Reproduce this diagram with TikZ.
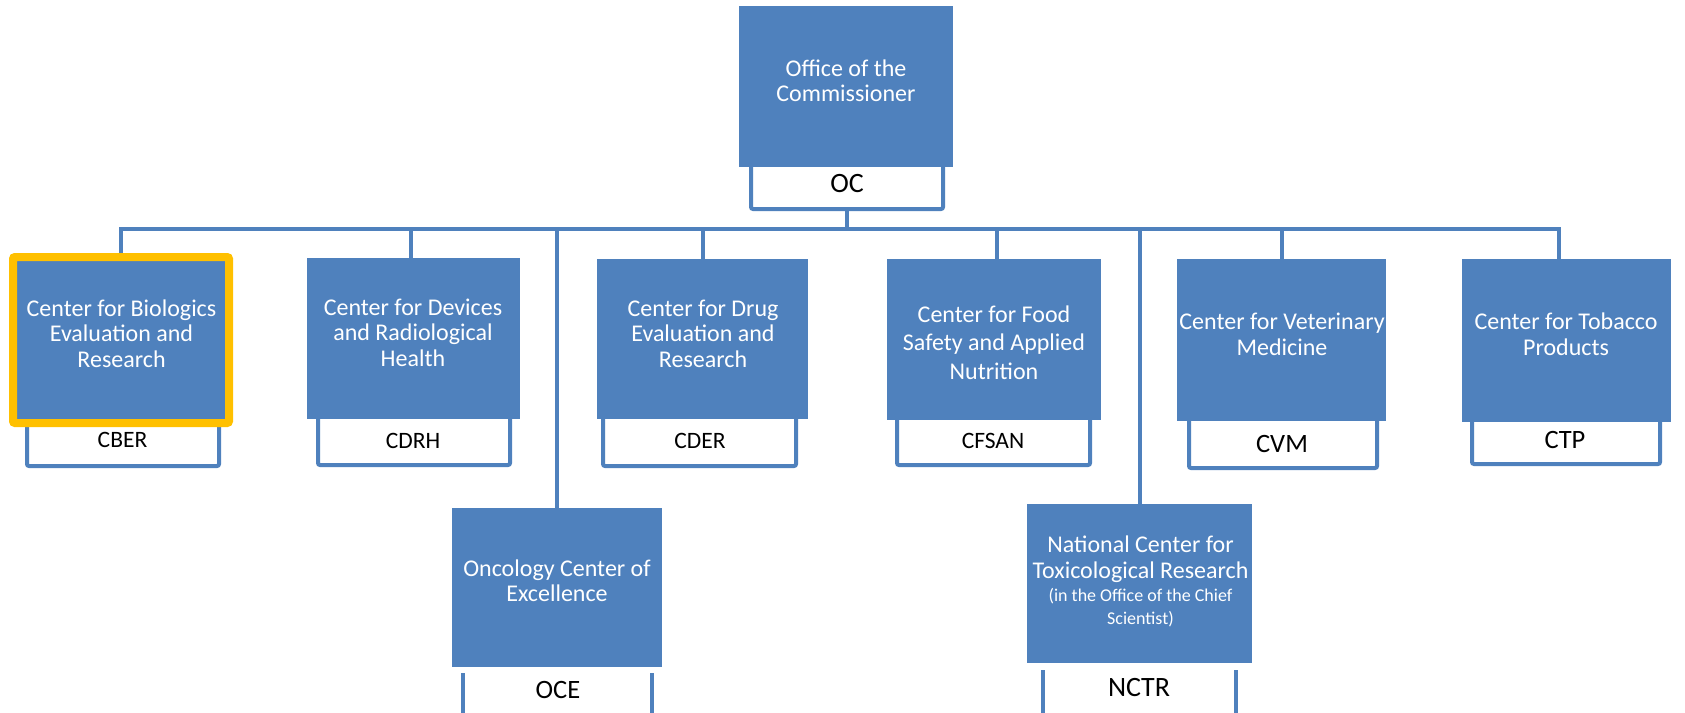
\documentclass[tikz,border=0pt]{standalone}
\usepackage{fontspec}
\setmainfont{Carlito}
\definecolor{fdablue}{HTML}{4F81BD}
\definecolor{fdagold}{HTML}{FFC000}
\begin{document}
\begin{tikzpicture}[x=1pt,y=-1pt,
  unit/.style={fill=fdablue, draw=none, inner sep=0pt, outer sep=0pt},
  abbr/.style={fill=white, draw=fdablue, line width=4pt, rounded corners=2pt, inner sep=0pt},
  abbrfill/.style={fill=white, draw=none, inner sep=0pt, outer sep=0pt},
  conn/.style={draw=fdablue, line width=4pt},
  lbl/.style={text=white, align=center, inner sep=0pt, font=\fontsize{24}{25.5}\selectfont},
  ab/.style={text=black, inner sep=0pt, font=\fontsize{#1}{#1}\selectfont},
]
\useasboundingbox (0,0) rectangle (1685,712);
\clip (0,0) rectangle (1685,712);

% abbreviation boxes (drawn first, partly hidden by the unit boxes)
\node[abbr, minimum width=192, minimum height=57] (ocab) at (847,180.5) {};
\node[abbr, minimum width=192, minimum height=56] (cberab) at (123,438) {};
\node[abbr, minimum width=192, minimum height=60] (cdrhab) at (414,435) {};
\node[abbr, minimum width=193, minimum height=61] (cderab) at (699.5,435.5) {};
\node[abbr, minimum width=193, minimum height=60] (cfsanab) at (993.5,435) {};
\node[abbr, minimum width=188, minimum height=63] (cvmab) at (1283,436.5) {};
\node[abbr, minimum width=188, minimum height=59] (ctpab) at (1566,434.5) {};
\node[abbrfill, minimum width=189, minimum height=60] (oceab) at (557.5,703) {};
\draw[conn] (oceab.north west) -- (oceab.south west) -- (oceab.south east) -- (oceab.north east);
\node[abbrfill, minimum width=193, minimum height=60] (nctrab) at (1139.5,700) {};
\draw[conn] (nctrab.north west) -- (nctrab.south west) -- (nctrab.south east) -- (nctrab.north east);

% unit boxes
\node[unit, minimum width=214, minimum height=161] (oc) at (846,86.5) {};
\node[unit, draw=fdagold, line width=8pt, outer sep=4pt, rounded corners=2pt, minimum width=216, minimum height=166] (cber) at (121,340) {};
\node[unit, minimum width=213, minimum height=161] (cdrh) at (413.5,338.5) {};
\node[unit, minimum width=211, minimum height=160] (cder) at (702.5,339) {};
\node[unit, minimum width=214, minimum height=161] (cfsan) at (994,339.5) {};
\node[unit, minimum width=209, minimum height=162] (cvm) at (1281.5,340) {};
\node[unit, minimum width=209, minimum height=163] (ctp) at (1566.5,340.5) {};
\node[unit, minimum width=210, minimum height=159] (oce) at (557,587.5) {};
\node[unit, minimum width=225, minimum height=159] (nctr) at (1139.5,583.5) {};

% connectors
\coordinate (busy) at (0,229);
\draw[conn] (ocab.south) -- (ocab.south |- busy);
\draw[conn] (cber.north) -- (cber.north |- busy) -- ([xshift=-7.5pt]ctp.north |- busy) -- ([xshift=-7.5pt]ctp.north);
\draw[conn] ([xshift=-2.5pt]cdrh.north) -- ([xshift=-2.5pt]cdrh.north |- busy);
\draw[conn] (cder.north) -- (cder.north |- busy);
\draw[conn] ([xshift=3pt]cfsan.north) -- ([xshift=3pt]cfsan.north |- busy);
\draw[conn] (cvm.north) -- (cvm.north |- busy);
\draw[conn] (oce.north) -- (oce.north |- busy);
\draw[conn] (nctr.north) -- (nctr.north |- busy);

% unit labels
\node[lbl] (oct) at (846,81) {Office of the\\Commissioner};
\node[lbl] (cbert) at (121.5,333.5) {Center for Biologics\\Evaluation and\\Research};
\node[lbl] (cdrht) at (413,332.5) {Center for Devices\\and Radiological\\Health};
\node[lbl] (cdert) at (703,333.5) {Center for Drug\\Evaluation and\\Research};
\node[lbl, font=\fontsize{24}{28.5}\selectfont] (cfsant) at (994,342.5) {Center for Food\\Safety and Applied\\Nutrition};
\node[lbl] (cvmt) at (1282,334.5) {Center for Veterinary\\Medicine};
\node[lbl] (ctpt) at (1566,334.5) {Center for Tobacco\\Products};
\node[lbl] (ocet) at (557,580.5) {Oncology Center of\\Excellence};
\node[lbl] (nctrt) at (1140.5,581.5) {National Center for\\Toxicological Research\\[-2pt]\fontsize{18}{22}\selectfont (in the Office of the Chief\\[-3pt]\fontsize{18}{22}\selectfont Scientist)};

% abbreviations
\node[ab=28] (octx) at (847,184) {OC};
\node[ab=23.5] (cbertx) at (122.5,440) {CBER};
\node[ab=23.5] (cdrhtx) at (413,441) {CDRH};
\node[ab=23.5] (cdertx) at (700,441) {CDER};
\node[ab=23.5] (cfsantx) at (993,441) {CFSAN};
\node[ab=26.5] (cvmtx) at (1282,444) {CVM};
\node[ab=26.5] (ctptx) at (1565,440) {CTP};
\node[ab=26.5] (ocetx) at (558,690) {OCE};
\node[ab=28] (nctrtx) at (1139,687) {NCTR};
\end{tikzpicture}
\end{document}
